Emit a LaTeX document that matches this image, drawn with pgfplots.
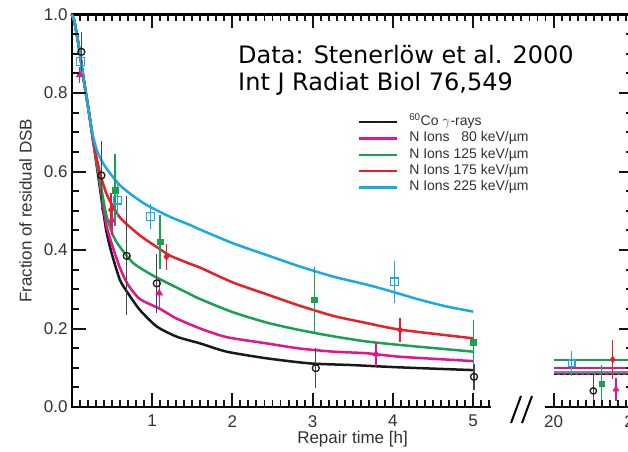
\documentclass[border=0pt]{standalone}
\usepackage{fontspec}
\setmainfont{Liberation Sans}
\newfontfamily\dejavu{DejaVu Sans}
\usepackage{pgfplots}
\usepackage{pgfplotstable}
\pgfplotsset{compat=1.18}

\definecolor{cblack}{RGB}{25,25,25}
\definecolor{cmag}{RGB}{228,20,140}
\definecolor{cgreen}{RGB}{25,160,80}
\definecolor{cred}{RGB}{232,30,40}
\definecolor{cblue}{RGB}{25,170,225}
\definecolor{txt}{RGB}{50,50,50}
\definecolor{ebgray}{RGB}{70,70,70}
\definecolor{tickc}{RGB}{20,20,20}

% fitted curves (x in h)
\pgfplotstableread{
x y
0 1.0
0.03 0.985
0.08 0.93
0.145 0.84
0.21 0.757
0.27 0.675
0.35 0.56
0.43 0.45
0.5 0.39
0.6 0.324
0.7 0.29
0.85 0.247
1.06 0.205
1.31 0.179
1.6 0.162
1.93 0.141
2.43 0.124
2.97 0.111
3.47 0.107
4.09 0.101
5.0 0.094
}\curveK
\pgfplotstableread{
x y
0 1.0
0.03 0.985
0.08 0.93
0.145 0.84
0.21 0.757
0.27 0.675
0.35 0.57
0.43 0.465
0.5 0.415
0.6 0.355
0.7 0.312
0.85 0.275
1.1 0.25
1.3 0.226
1.6 0.2
1.93 0.178
2.43 0.162
2.84 0.149
3.26 0.141
3.67 0.137
4.09 0.128
5.0 0.117
}\curveM
\pgfplotstableread{
x y
0 1.0
0.03 0.985
0.08 0.93
0.145 0.84
0.21 0.757
0.27 0.675
0.35 0.58
0.43 0.49
0.52 0.435
0.6 0.408
0.77 0.366
1.02 0.334
1.35 0.3
1.6 0.275
2.0 0.242
2.43 0.215
2.84 0.196
3.26 0.18
3.67 0.167
4.09 0.158
5.0 0.141
}\curveG
\pgfplotstableread{
x y
0 1.0
0.03 0.985
0.08 0.93
0.145 0.84
0.21 0.757
0.27 0.675
0.35 0.598
0.44 0.54
0.6 0.483
0.85 0.437
1.1 0.402
1.22 0.386
1.47 0.365
1.6 0.355
2.01 0.317
2.43 0.287
2.84 0.258
3.26 0.232
3.67 0.214
4.09 0.197
5.0 0.175
}\curveR
\pgfplotstableread{
x y
0 1.0
0.03 0.985
0.08 0.93
0.145 0.84
0.21 0.757
0.26 0.695
0.32 0.65
0.4 0.618
0.48 0.595
0.6 0.565
0.75 0.54
0.93 0.515
1.22 0.485
1.47 0.464
1.6 0.452
2.01 0.417
2.43 0.387
2.84 0.358
3.26 0.332
3.67 0.312
3.92 0.298
4.34 0.273
4.67 0.256
5.0 0.243
}\curveB

% measured points, 0-5 h
\pgfplotstableread{
x y e
0.12 0.905 0.037
0.37 0.59 0.075
0.685 0.385 0.139
1.06 0.315 0.062
3.04 0.099 0.038
5.01 0.077 0.02
}\pointsK
\pgfplotstableread{
x y e
0.10 0.846 0.008
0.50 0.476 0.025
1.09 0.29 0.025
3.79 0.135 0.018
}\pointsM
\pgfplotstableread{
x y e
0.54 0.553 0.079
1.10 0.421 0.056
3.02 0.273 0.072
5.0 0.165 0.045
}\pointsG
\pgfplotstableread{
x y e
0.49 0.502 0.03
1.18 0.383 0.02
4.09 0.196 0.017
}\pointsR
\pgfplotstableread{
x y e
0.11 0.88 0.015
0.57 0.527 0.03
0.98 0.485 0.02
4.02 0.319 0.041
}\pointsB

% 20-25 h segment (t in h)
\pgfplotstableread{
t g m b r k
20 0.120 0.100 0.088 0.084 0.083
25 0.120 0.100 0.088 0.084 0.083
}\lateLevels
\pgfplotstableread{
t y e
21.13 0.111 0.020
}\lateB
\pgfplotstableread{
t y e
22.48 0.041 0.027
}\lateK
\pgfplotstableread{
t y e
23.00 0.060 0.034
}\lateG
\pgfplotstableread{
t y e
23.69 0.121 0.037
}\lateR
\pgfplotstableread{
t y e
23.89 0.045 0.016
}\lateM

\newcommand{\lateshift}{6+(\thisrow{t}-20)/5}

\pgfplotsset{
  base/.style={
    at={(71.7pt,44pt)}, anchor=south west, scale only axis,
    width=562.1pt, height=392.5pt,
    xmin=0, xmax=7, ymin=0, ymax=1,
    major tick length=0pt, minor tick length=0pt,
    axis line style={line width=2.4pt, black},
    /pgf/number format/assume math mode=true,
    tick label style={font=\fontsize{17}{20}\selectfont, text=txt},
  },
  ebar/.style={error bars/.cd, y dir=both, y explicit,
    error bar style={line width=1.3pt, #1},
    error mark options={mark size=5pt, line width=1.3pt, #1}},
}

\begin{document}
\begin{tikzpicture}
\useasboundingbox (0pt,0pt) rectangle (628pt,451pt);

% bottom (broken) axis labels
\begin{axis}[base,
  xtick pos=lower,
  ytick=\empty,
  xtick={1,2,3,4,5,6,7},
  xticklabels={1,2,3,4,5,20,25},
  xticklabel style={inner sep=0pt, anchor=north, yshift=-8pt},
  xlabel={Repair time [h]},
  xlabel style={at={(axis description cs:0.4996,-0.0917)}, anchor=base,
    font=\fontsize{17}{20}\selectfont, text=txt, inner sep=0pt},
]
\end{axis}

% main axis: frame, y labels, data
\begin{axis}[base,
  clip=false,
  xtick={0,1,2,3,4,5,6,7}, xticklabels={},
  ytick={0,0.2,0.4,0.6,0.8,1.0},
  yticklabel pos=left,
  yticklabel style={inner sep=0pt, anchor=east, xshift=-4pt,
    /pgf/number format/fixed, /pgf/number format/fixed zerofill,
    /pgf/number format/precision=1},
  ylabel={Fraction of residual DSB},
  ylabel style={at={(axis description cs:-0.0822,0.5)}, anchor=center,
    font=\fontsize{17}{20}\selectfont, text=txt},
  legend cell align=left,
  legend image code/.code={\draw[#1, line width=2.5pt] (0pt,0pt) -- (38pt,0pt);},
  legend style={at={(0.5077,0.744)}, anchor=north west, draw=none, fill=none,
    inner sep=0pt, row sep=2.3pt, column sep=11pt,
    font=\fontsize{14}{16}\selectfont, text=txt,
    nodes={inner sep=0.5pt, text height=10pt, text depth=3pt, anchor=west}},
]
% fitted curves
\addplot[cblack, line width=2.5pt, smooth, tension=0.4] table {\curveK};
\addlegendentry{\textsuperscript{60}Co $\gamma$-rays}
\addplot[cmag, line width=2.5pt, smooth, tension=0.4] table {\curveM};
\addlegendentry{N Ions \phantom{1}80 keV/µm}
\addplot[cgreen, line width=2.5pt, smooth, tension=0.4] table {\curveG};
\addlegendentry{N Ions 125 keV/µm}
\addplot[cred, line width=2.5pt, smooth, tension=0.4] table {\curveR};
\addlegendentry{N Ions 175 keV/µm}
\addplot[cblue, line width=2.5pt, smooth, tension=0.4] table {\curveB};
\addlegendentry{N Ions 225 keV/µm}

% 20-25 h levels
\addplot[cgreen, line width=2.5pt, forget plot] table[x expr=\lateshift, y=g] {\lateLevels};
\addplot[cmag, line width=2.5pt, forget plot] table[x expr=\lateshift, y=m] {\lateLevels};
\addplot[cblue, line width=2.5pt, forget plot] table[x expr=\lateshift, y=b] {\lateLevels};
\addplot[cred, line width=2.5pt, forget plot] table[x expr=\lateshift, y=r] {\lateLevels};
\addplot[cblack, line width=1.4pt, dash pattern=on 3pt off 3pt, forget plot] table[x expr=\lateshift, y=k] {\lateLevels};

% measured points
\addplot[only marks, forget plot, mark=o, mark size=3.5pt, cblack, mark options={line width=1.3pt}, ebar=ebgray] table[x=x, y=y, y error=e] {\pointsK};
\addplot[only marks, forget plot, mark=triangle*, mark size=4pt, cmag, ebar=cmag] table[x=x, y=y, y error=e] {\pointsM};
\addplot[only marks, forget plot, mark=square*, mark size=2.8pt, cgreen, ebar=cgreen] table[x=x, y=y, y error=e] {\pointsG};
\addplot[only marks, forget plot, mark=diamond*, mark size=3.6pt, cred, ebar=cred] table[x=x, y=y, y error=e] {\pointsR};
\addplot[only marks, forget plot, mark=square, mark size=3.8pt, cblue, mark options={line width=1.3pt}, ebar=cblue] table[x=x, y=y, y error=e] {\pointsB};

\addplot[only marks, forget plot, mark=square, mark size=3.4pt, cblue, mark options={line width=1.3pt}, ebar=cblue] table[x expr=\lateshift, y=y, y error=e] {\lateB};
\addplot[only marks, forget plot, mark=o, mark size=3.2pt, cblack, mark options={line width=1.3pt}, ebar=ebgray] table[x expr=\lateshift, y=y, y error=e] {\lateK};
\addplot[only marks, forget plot, mark=square*, mark size=2.6pt, cgreen, ebar=cgreen] table[x expr=\lateshift, y=y, y error=e] {\lateG};
\addplot[only marks, forget plot, mark=diamond*, mark size=3.4pt, cred, ebar=cred] table[x expr=\lateshift, y=y, y error=e] {\lateR};
\addplot[only marks, forget plot, mark=triangle*, mark size=3.6pt, cmag, ebar=cmag] table[x expr=\lateshift, y=y, y error=e] {\lateM};
\end{axis}

% gap in the bottom axis line
\fill[white] (490.5pt,40pt) rectangle (544.5pt,48pt);

% tick marks as filled bars (frame: x0=71.7pt, y0=44pt, 80.3pt per h, 392.5pt per unit)
% top: minor every 0.1 h, major every 1 h
\foreach \k in {1,...,70} {\fill[tickc] ({70.8pt+\k*8.03pt},429.5pt) rectangle ++(1.9pt,7.5pt);}
\foreach \k in {1,...,7} {\fill[tickc] ({70.75pt+\k*80.3pt},422.5pt) rectangle ++(2pt,14.5pt);}
% left and right: minor every 0.05, major every 0.2
\foreach \k in {1,...,19} {
  \fill[tickc] (71pt,{43.05pt+\k*19.625pt}) rectangle ++(7.7pt,1.9pt);
  \fill[tickc] (626.1pt,{43.05pt+\k*19.625pt}) rectangle ++(7.7pt,1.9pt);}
\foreach \k in {1,...,4} {
  \fill[tickc] (71pt,{43pt+\k*78.5pt}) rectangle ++(14.7pt,2pt);
  \fill[tickc] (619.1pt,{43pt+\k*78.5pt}) rectangle ++(14.7pt,2pt);}
% bottom: 0-5.2 h and 20-25 h
\foreach \k in {1,...,52,61,62,63,64,65,66,67,68,69} {\fill[tickc] ({70.8pt+\k*8.03pt},43.5pt) rectangle ++(1.9pt,7.5pt);}
\foreach \k in {1,2,3,4,5,6,7} {\fill[tickc] ({70.75pt+\k*80.3pt},43.5pt) rectangle ++(2pt,14.5pt);}

% break marks
\draw[line width=2pt] (511pt,28pt) -- (521pt,55pt);
\draw[line width=2pt] (522pt,28pt) -- (532pt,55pt);

% annotation
\node[anchor=base west, inner sep=0pt, font=\dejavu\fontsize{24}{27}\selectfont] at (238pt,387.7pt) {Data: Stenerlöw et al. 2000};
\node[anchor=base west, inner sep=0pt, font=\dejavu\fontsize{24}{27}\selectfont] at (238pt,361pt) {Int J Radiat Biol 76,549};
\end{tikzpicture}
\end{document}
